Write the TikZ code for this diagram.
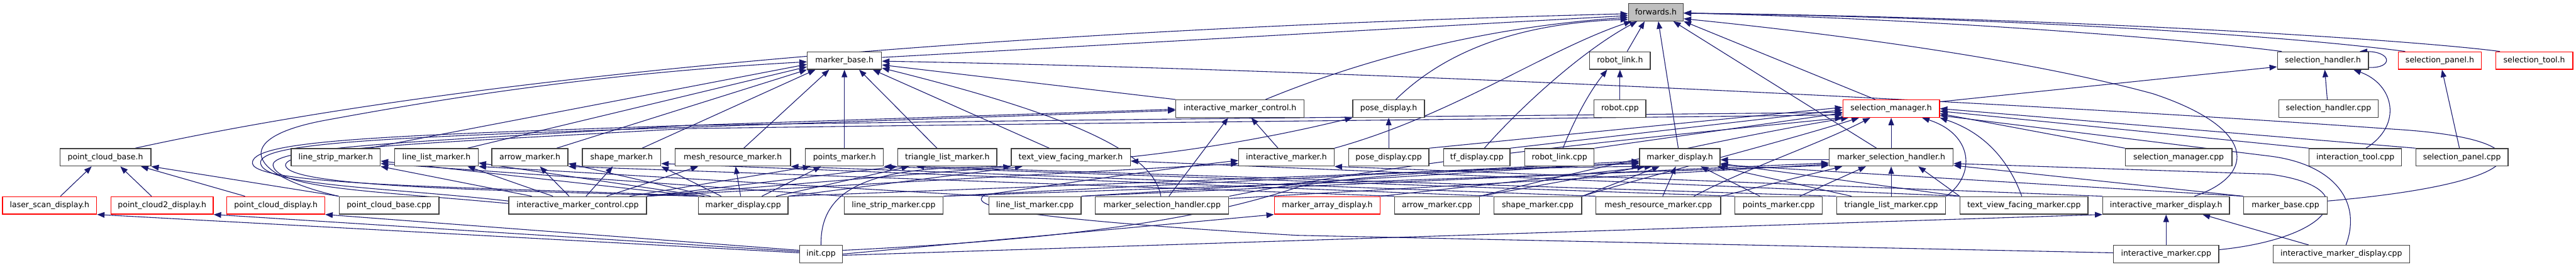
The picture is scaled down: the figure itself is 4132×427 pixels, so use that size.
\documentclass[tikz,border=0pt]{standalone}
\usepackage{fontspec}
\setmainfont{DejaVu Sans}
\usetikzlibrary{arrows.meta}
\definecolor{edgecol}{HTML}{191970}
\definecolor{nodebd}{HTML}{404040}
\definecolor{fwfill}{HTML}{BFBFBF}
\pgfdeclarelayer{edges}
\pgfsetlayers{edges,main}
\tikzset{
  nbox/.style={draw=nodebd, line width=1.3pt, fill=white, inner sep=0pt, minimum height=28pt, font=\fontsize{12.6pt}{15pt}\selectfont},
  rbox/.style={nbox, draw=red},
  edge/.style={draw=edgecol, line width=1.1pt, -{Triangle[length=12pt,width=9pt]}},
}
\begin{document}
\begin{tikzpicture}[x=1pt,y=-1pt]
\useasboundingbox (0,0) rectangle (4132,427);
% row 0
\node[nbox, fill=fwfill, minimum width=88pt] (F) at (2656,19.5) {forwards.h};
% row 1
\node[nbox, minimum width=119pt] (MBh) at (1354.5,97) {marker\_base.h};
\node[nbox, minimum width=97pt] (RLh) at (2598.5,97) {robot\_link.h};
\node[nbox, minimum width=146pt] (SHh) at (3726,97) {selection\_handler.h};
\node[rbox, minimum width=133pt] (SPh) at (3913.5,97) {selection\_panel.h};
\node[rbox, minimum width=124pt] (STh) at (4065,97) {selection\_tool.h};
% row 2
\node[nbox, minimum width=206pt] (IMCh) at (1989,174) {interactive\_marker\_control.h};
\node[nbox, minimum width=115pt] (PDh) at (2227.5,174) {pose\_display.h};
\node[nbox, minimum width=83pt] (Rc) at (2598.5,174) {robot.cpp};
\node[rbox, minimum width=155pt] (SMh) at (3033.5,174) {selection\_manager.h};
\node[nbox, minimum width=160pt] (SHc) at (3735,174) {selection\_handler.cpp};
% row 3
\node[nbox, minimum width=146pt] (PCBh) at (169,252) {point\_cloud\_base.h};
\node[nbox, minimum width=143pt] (LSMh) at (538.5,252) {line\_strip\_marker.h};
\node[nbox, minimum width=134pt] (LLMh) at (700,252) {line\_list\_marker.h};
\node[nbox, minimum width=122pt] (AMh) at (850,252) {arrow\_marker.h};
\node[nbox, minimum width=126pt] (SHMh) at (997,252) {shape\_marker.h};
\node[nbox, minimum width=185pt] (MRMh) at (1175.5,252) {mesh\_resource\_marker.h};
\node[nbox, minimum width=125pt] (PMh) at (1354.5,252) {points\_marker.h};
\node[nbox, minimum width=159pt] (TLMh) at (1519.5,252) {triangle\_list\_marker.h};
\node[nbox, minimum width=191pt] (TVFMh) at (1717.5,252) {text\_view\_facing\_marker.h};
\node[nbox, minimum width=153pt] (IMh) at (2063.5,252) {interactive\_marker.h};
\node[nbox, minimum width=129pt] (PDc) at (2227.5,252) {pose\_display.cpp};
\node[nbox, minimum width=106pt] (TFc) at (2369,252) {tf\_display.cpp};
\node[nbox, minimum width=111pt] (RLc) at (2501.5,252) {robot\_link.cpp};
\node[nbox, minimum width=129pt] (MDh) at (2694.5,252) {marker\_display.h};
\node[nbox, minimum width=199pt] (MSHh) at (3033.5,252) {marker\_selection\_handler.h};
\node[nbox, minimum width=171pt] (SMc) at (3494.5,252) {selection\_manager.cpp};
\node[nbox, minimum width=148pt] (ITc) at (3778,252) {interaction\_tool.cpp};
\node[nbox, minimum width=148pt] (SPc) at (3949,252) {selection\_panel.cpp};
% row 4
\node[rbox, minimum width=151pt] (LSDh) at (79.5,329) {laser\_scan\_display.h};
\node[rbox, minimum width=164pt] (PC2Dh) at (260,329) {point\_cloud2\_display.h};
\node[rbox, minimum width=157pt] (PCDh) at (442.5,329) {point\_cloud\_display.h};
\node[nbox, minimum width=160pt] (PCBc) at (624,329) {point\_cloud\_base.cpp};
\node[nbox, minimum width=221pt] (IMCc) at (926.5,329) {interactive\_marker\_control.cpp};
\node[nbox, minimum width=144pt] (MDc) at (1192,329) {marker\_display.cpp};
\node[nbox, minimum width=159pt] (LSMc) at (1433.5,329) {line\_strip\_marker.cpp};
\node[nbox, minimum width=148pt] (LLMc) at (1660,329) {line\_list\_marker.cpp};
\node[nbox, minimum width=214pt] (MSHc) at (1864,329) {marker\_selection\_handler.cpp};
\node[rbox, minimum width=170pt] (MADh) at (2129,329) {marker\_array\_display.h};
\node[nbox, minimum width=136pt] (AMc) at (2305,329) {arrow\_marker.cpp};
\node[nbox, minimum width=141pt] (SHMc) at (2466.5,329) {shape\_marker.cpp};
\node[nbox, minimum width=200pt] (MRMc) at (2660,329) {mesh\_resource\_marker.cpp};
\node[nbox, minimum width=140pt] (PMc) at (2853,329) {points\_marker.cpp};
\node[nbox, minimum width=175pt] (TLMc) at (3033.5,329) {triangle\_list\_marker.cpp};
\node[nbox, minimum width=205pt] (TVFMc) at (3246.5,329) {text\_view\_facing\_marker.cpp};
\node[nbox, minimum width=203pt] (IMDh) at (3474.5,329) {interactive\_marker\_display.h};
\node[nbox, minimum width=134pt] (MBc) at (3666,329) {marker\_base.cpp};
% row 5
\node[nbox, minimum width=68pt] (INITc) at (1317,407) {init.cpp};
\node[nbox, minimum width=169pt] (IMc) at (3474.5,407) {interactive\_marker.cpp};
\node[nbox, minimum width=219pt] (IMDc) at (3755.5,407) {interactive\_marker\_display.cpp};

\begin{pgfonlayer}{edges}
\fill[white] (0,0) rectangle (4132,427);
% ---- to forwards.h
\draw[edge] (PCBh.north -| 217,0) .. controls (800,110) and (1700,45) .. (F.west |- 0,22);
\draw[edge] (MBh.east |- 0,92) -- (F.west |- 0,25);
\draw[edge] (IMCh.north -| 2030,0) .. controls (2150,110) and (2350,45) .. (F.west |- 0,28);
\draw[edge] (PDh.north -| 2239,0) .. controls (2310,90) and (2420,38) .. (F.west |- 0,31);
\draw[edge] (IMh.north east) .. controls (2330,185) and (2480,80) .. (F.south -| 2617,0);
\draw[edge] (TFc.north -| 2381,0) .. controls (2440,170) and (2540,80) .. (F.south -| 2626,0);
\draw[edge] (RLh.north -| 2610,0) -- (F.south -| 2638,0);
\draw[edge] (MDh.north -| 2692,0) -- (F.south -| 2660,0);
\draw[edge] (MSHh.north -| 3010,0) -- (F.south -| 2684,0);
\draw[edge] (SMh.north -| 3008,0) -- (F.south east);
\draw[edge] (SHh.north -| 3660,0) .. controls (3500,62) and (3100,30) .. (F.east |- 0,21);
\draw[edge] (SPh.north -| 3858,0) .. controls (3650,55) and (3200,28) .. (F.east |- 0,21);
\draw[edge] (STh.north -| 4010,0) .. controls (3850,62) and (3300,28) .. (F.east |- 0,21);
\draw[edge] (IMDh.north -| 3520,0) .. controls (3620,280) and (3620,205) .. (3453,150) .. controls (3250,95) and (2950,55) .. (F.east |- 0,30);
% ---- to marker_base.h
\draw[edge] (LSMh.north -| 592,0) -- (MBh.west |- 0,103);
\draw[edge] (LLMh.north -| 750,0) -- (MBh.west |- 0,107);
\draw[edge] (AMh.north -| 893,0) -- (MBh.south west);
\draw[edge] (SHMh.north -| 1030,0) -- (MBh.south -| 1308,0);
\draw[edge] (MRMh.north -| 1193,0) -- (MBh.south -| 1330,0);
\draw[edge] (PMh) -- (MBh);
\draw[edge] (TLMh.north -| 1503,0) -- (MBh.south -| 1378,0);
\draw[edge] (TVFMh.north -| 1683,0) -- (MBh.south -| 1400,0);
\draw[edge] (IMCh.north west) -- (MBh.east |- 0,104);
\draw[edge] (MSHc.north -| 1862,0) .. controls (1850,240) and (1700,180) .. (MBh.east |- 0,109);
\draw[edge] (MBc.east |- 0,322) .. controls (4080,292) and (4090,222) .. (3840,207) .. controls (3300,168) and (2200,112) .. (MBh.east |- 0,98);
\draw[edge] (PCBc.north west) .. controls (400,282) and (365,222) .. (520,193) .. controls (700,160) and (950,118) .. (MBh.west |- 0,99);
% ---- to point_cloud_base.h
\draw[edge] (LSDh.north -| 97,0) -- (PCBh.south -| 147,0);
\draw[edge] (PC2Dh.north -| 243,0) -- (PCBh.south -| 193,0);
\draw[edge] (PCDh.north -| 393,0) -- (PCBh.south -| 226,0);
\draw[edge] (PCBc.north west) -- (PCBh.south east);
% ---- from init.cpp
\draw[edge] (INITc.west |- 0,405) -- (LSDh.south east);
\draw[edge] (INITc.west |- 0,403) -- (PC2Dh.south east);
\draw[edge] (INITc.west |- 0,401) -- (PCDh.south east);
\draw[edge] (INITc.east |- 0,407) -- (MADh.south west);
\draw[edge] (INITc.east |- 0,409) -- (IMDh.south west);
\draw[edge] (INITc.east |- 0,401) .. controls (1750,382) and (1950,345) .. (2090,297) .. controls (2250,272) and (2500,268) .. (MDh.south west);
\draw[edge] (INITc.north) .. controls (1315,300) and (1400,270) .. (1560,268) .. controls (1800,262) and (2000,230) .. (PDh.south west);
% ---- robot_link.h, selection_handler.h, selection_panel.h
\draw[edge] (Rc) -- (RLh);
\draw[edge] (RLc.north -| 2507,0) .. controls (2530,180) and (2555,140) .. (RLh.south -| 2578,0);
\draw[edge] (SHc.north -| 3733,0) -- (SHh.south -| 3729,0);
\draw[edge] (ITc.north -| 3795,0) .. controls (3855,200) and (3840,135) .. (SHh.south -| 3775,0);
\draw[edge] (SHh.east |- 0,108) .. controls (3838,110) and (3838,83) .. (SHh.north -| 3785,0);
\draw[edge] (SMh.east |- 0,163) -- (SHh.west |- 0,107);
\draw[edge] (SPc.north -| 3945,0) -- (SPh.south -| 3917,0);
% ---- interactive_marker_control.h, pose_display.h
\draw[edge] (IMh.north -| 2050,0) -- (IMCh.south -| 2007,0);
\draw[edge] (MSHc.north -| 1875,0) -- (IMCh.south -| 1970,0);
\draw[edge] (IMCc.west |- 0,322) .. controls (620,300) and (425,298) .. (418,262) .. controls (412,230) and (600,221) .. (1040,206) -- (IMCh.west |- 0,177);
\draw[edge] (MDc.north west) .. controls (820,300) and (410,300) .. (405,262) .. controls (400,226) and (600,218) .. (1040,203) -- (IMCh.west |- 0,175);
\draw[edge] (PDc) -- (PDh);
% ---- selection_manager.h
\draw[edge] (MSHh) -- (SMh);
\draw[edge] (IMCc.west |- 0,326) .. controls (600,306) and (445,302) .. (438,265) .. controls (432,234) and (700,226) .. (1100,201) .. controls (1800,190) and (2500,185) .. (SMh.west |- 0,180);
\draw[edge] (MDc.north west) .. controls (800,305) and (462,300) .. (458,265) .. controls (455,236) and (720,228) .. (1100,206) .. controls (1800,196) and (2500,190) .. (SMh.west |- 0,184);
\draw[edge] (PDc.north east) -- (SMh.west |- 0,172);
\draw[edge] (TFc.north east) -- (SMh.west |- 0,176);
\draw[edge] (RLc.north east) -- (SMh.west |- 0,181);
\draw[edge] (MSHc.north east) .. controls (2300,250) and (2700,215) .. (SMh.south west);
\draw[edge] (AMc.north east) .. controls (2550,270) and (2800,215) .. (SMh.south -| 2965,0);
\draw[edge] (SHMc.north east) .. controls (2650,280) and (2850,230) .. (SMh.south -| 2982,0);
\draw[edge] (MRMc.north -| 2717,0) .. controls (2800,270) and (2920,230) .. (SMh.south -| 3000,0);
\draw[edge] (TLMc.north east) .. controls (3170,280) and (3165,215) .. (SMh.south -| 3083,0);
\draw[edge] (TVFMc.north -| 3243,0) .. controls (3225,265) and (3190,215) .. (SMh.south east);
\draw[edge] (SMc.north west) -- (SMh.east |- 0,182);
\draw[edge] (ITc.north west) -- (SMh.east |- 0,178);
\draw[edge] (SPc.north west) -- (SMh.east |- 0,174);
\draw[edge] (IMDc.north -| 3763,0) .. controls (3790,320) and (3740,262) .. (3640,250) -- (SMh.east |- 0,185);
% ---- marker_selection_handler.h
\draw[edge] (TLMc) -- (MSHh);
\draw[edge] (PMc.north -| 2887,0) -- (MSHh.south -| 2993,0);
\draw[edge] (MRMc.north east) -- (MSHh.south -| 2955,0);
\draw[edge] (TVFMc.north west) -- (MSHh.south -| 3077,0);
\draw[edge] (MSHc.east |- 0,318) -- (MSHh.west |- 0,263);
\draw[edge] (LSMc.north east) -- (MSHh.west |- 0,265);
\draw[edge] (LLMc.north east) -- (MSHh.west |- 0,261);
\draw[edge] (IMc.east |- 0,400) .. controls (3740,382) and (3800,300) .. (3640,279) -- (MSHh.east |- 0,262);
\draw[edge] (MBc.north west) -- (MSHh.east |- 0,265);
% ---- marker_display.h
\draw[edge] (MSHh.west |- 0,256) -- (MDh.east |- 0,256);
\draw[edge] (MDc.north east) -- (MDh.west |- 0,262);
\draw[edge] (MADh.north east) -- (MDh.south -| 2650,0);
\draw[edge] (AMc.north east) -- (MDh.south -| 2638,0);
\draw[edge] (SHMc.north east) -- (MDh.south -| 2662,0);
\draw[edge] (MRMc.north -| 2667,0) -- (MDh.south -| 2688,0);
\draw[edge] (PMc.north -| 2823,0) -- (MDh.south -| 2728,0);
\draw[edge] (TLMc.north -| 2970,0) -- (MDh.south -| 2755,0);
\draw[edge] (LSMc.north east) -- (MDh.west |- 0,258);
\draw[edge] (LLMc.north east) -- (MDh.west |- 0,260);
\draw[edge] (TVFMc.north west) -- (MDh.east |- 0,262);
\draw[edge] (MBc.north west) -- (MDh.east |- 0,264);
% ---- marker .cpp -> marker .h
\draw[edge] (LSMc.north west) -- (LSMh.east |- 0,262);
\draw[edge] (LLMc.north west) -- (LLMh.south east);
\draw[edge] (AMc.north west) -- (AMh.south east);
\draw[edge] (SHMc.north west) -- (SHMh.east |- 0,262);
\draw[edge] (MRMc.north west) -- (MRMh.south east);
\draw[edge] (PMc.north west) -- (PMh.south east);
\draw[edge] (TLMc.north west) -- (TLMh.south -| 1470,0);
\draw[edge] (TVFMc.north west) -- (TVFMh.east |- 0,258);
% ---- interactive_marker_control.cpp -> marker headers
\draw[edge] (IMCc.north -| 853,0) -- (LSMh.south east);
\draw[edge] (IMCc.north -| 887,0) -- (LLMh.south -| 750,0);
\draw[edge] (IMCc.north -| 913,0) -- (AMh.south -| 866,0);
\draw[edge] (IMCc.north -| 940,0) -- (SHMh.south -| 983,0);
\draw[edge] (IMCc.north -| 973,0) -- (MRMh.south -| 1120,0);
\draw[edge] (IMCc.north -| 1010,0) -- (PMh.south -| 1300,0);
\draw[edge] (IMCc.north east) -- (TLMh.south west);
\draw[edge] (IMCc.north east) -- (TVFMh.south west);
\draw[edge] (IMCc.north east) -- (IMh.west |- 0,262);
% ---- marker_display.cpp -> marker headers
\draw[edge] (MDc.north west) -- (LSMh.east |- 0,258);
\draw[edge] (MDc.north -| 1130,0) -- (LLMh.east |- 0,261);
\draw[edge] (MDc.north -| 1140,0) -- (AMh.east |- 0,262);
\draw[edge] (MDc.north -| 1157,0) -- (SHMh.south east);
\draw[edge] (MDc.north -| 1188,0) -- (MRMh.south -| 1180,0);
\draw[edge] (MDc.north -| 1222,0) -- (PMh.south -| 1317,0);
\draw[edge] (MDc.north -| 1245,0) -- (TLMh.south -| 1458,0);
\draw[edge] (MDc.north east) -- (TVFMh.south -| 1640,0);
% ---- interactive markers
\draw[edge] (IMc.west |- 0,405) -- (2080,377) .. controls (1620,350) and (1550,330) .. (1580,312) .. controls (1700,295) and (1870,270) .. (IMh.west |- 0,257);
\draw[edge] (IMDh.north west) -- (IMh.south east);
\draw[edge] (IMDc.north -| 3703,0) -- (IMDh.south -| 3533,0);
\draw[edge] (IMc) -- (IMDh);
\end{pgfonlayer}
\end{tikzpicture}
\end{document}
